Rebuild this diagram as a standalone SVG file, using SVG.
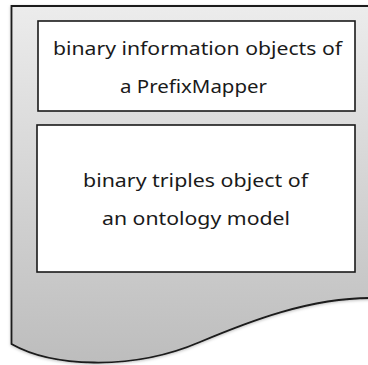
<svg xmlns="http://www.w3.org/2000/svg" width="368" height="365" viewBox="0 0 368 365">
  <defs>
    <linearGradient id="docFill" x1="0" y1="0" x2="0" y2="1">
      <stop offset="0" stop-color="#ececec"/>
      <stop offset="1" stop-color="#bdbdbd"/>
    </linearGradient>
    <filter id="shadow" x="-10%" y="-10%" width="120%" height="120%">
      <feDropShadow dx="0" dy="1" stdDeviation="1.5" flood-color="#000" flood-opacity="0.25"/>
    </filter>
  </defs>
  <style>
    .doc { fill: url(#docFill); stroke: #1a1a1a; stroke-width: 1.8; }
    .box { fill: #ffffff; stroke: #1a1a1a; stroke-width: 1.6; }
    .label { font-family: "Noto Sans", "Open Sans", sans-serif; font-size: 18px; fill: #1a1a1a; text-anchor: middle; }
  </style>
  <rect width="368" height="365" fill="#ffffff"/>
  <g id="document">
    <path class="doc" filter="url(#shadow)" d="M11.5,6 H372 V298 H370 C310,298 250,321 200,342 C130,372 50,366 11.5,344 Z"/>
  </g>
  <g id="prefixmapper">
    <rect class="box" x="38" y="21" width="317" height="90"/>
    <text class="label" x="197.5" y="55" textLength="289" lengthAdjust="spacingAndGlyphs">binary information objects of</text>
    <text class="label" x="193.5" y="93" textLength="147" lengthAdjust="spacingAndGlyphs">a PrefixMapper</text>
  </g>
  <g id="triples">
    <rect class="box" x="37" y="125" width="318" height="147"/>
    <text class="label" x="195.5" y="187" textLength="225" lengthAdjust="spacingAndGlyphs">binary triples object of</text>
    <text class="label" x="196" y="225" textLength="188" lengthAdjust="spacingAndGlyphs">an ontology model</text>
  </g>
  <g id="connectors"></g>
</svg>
